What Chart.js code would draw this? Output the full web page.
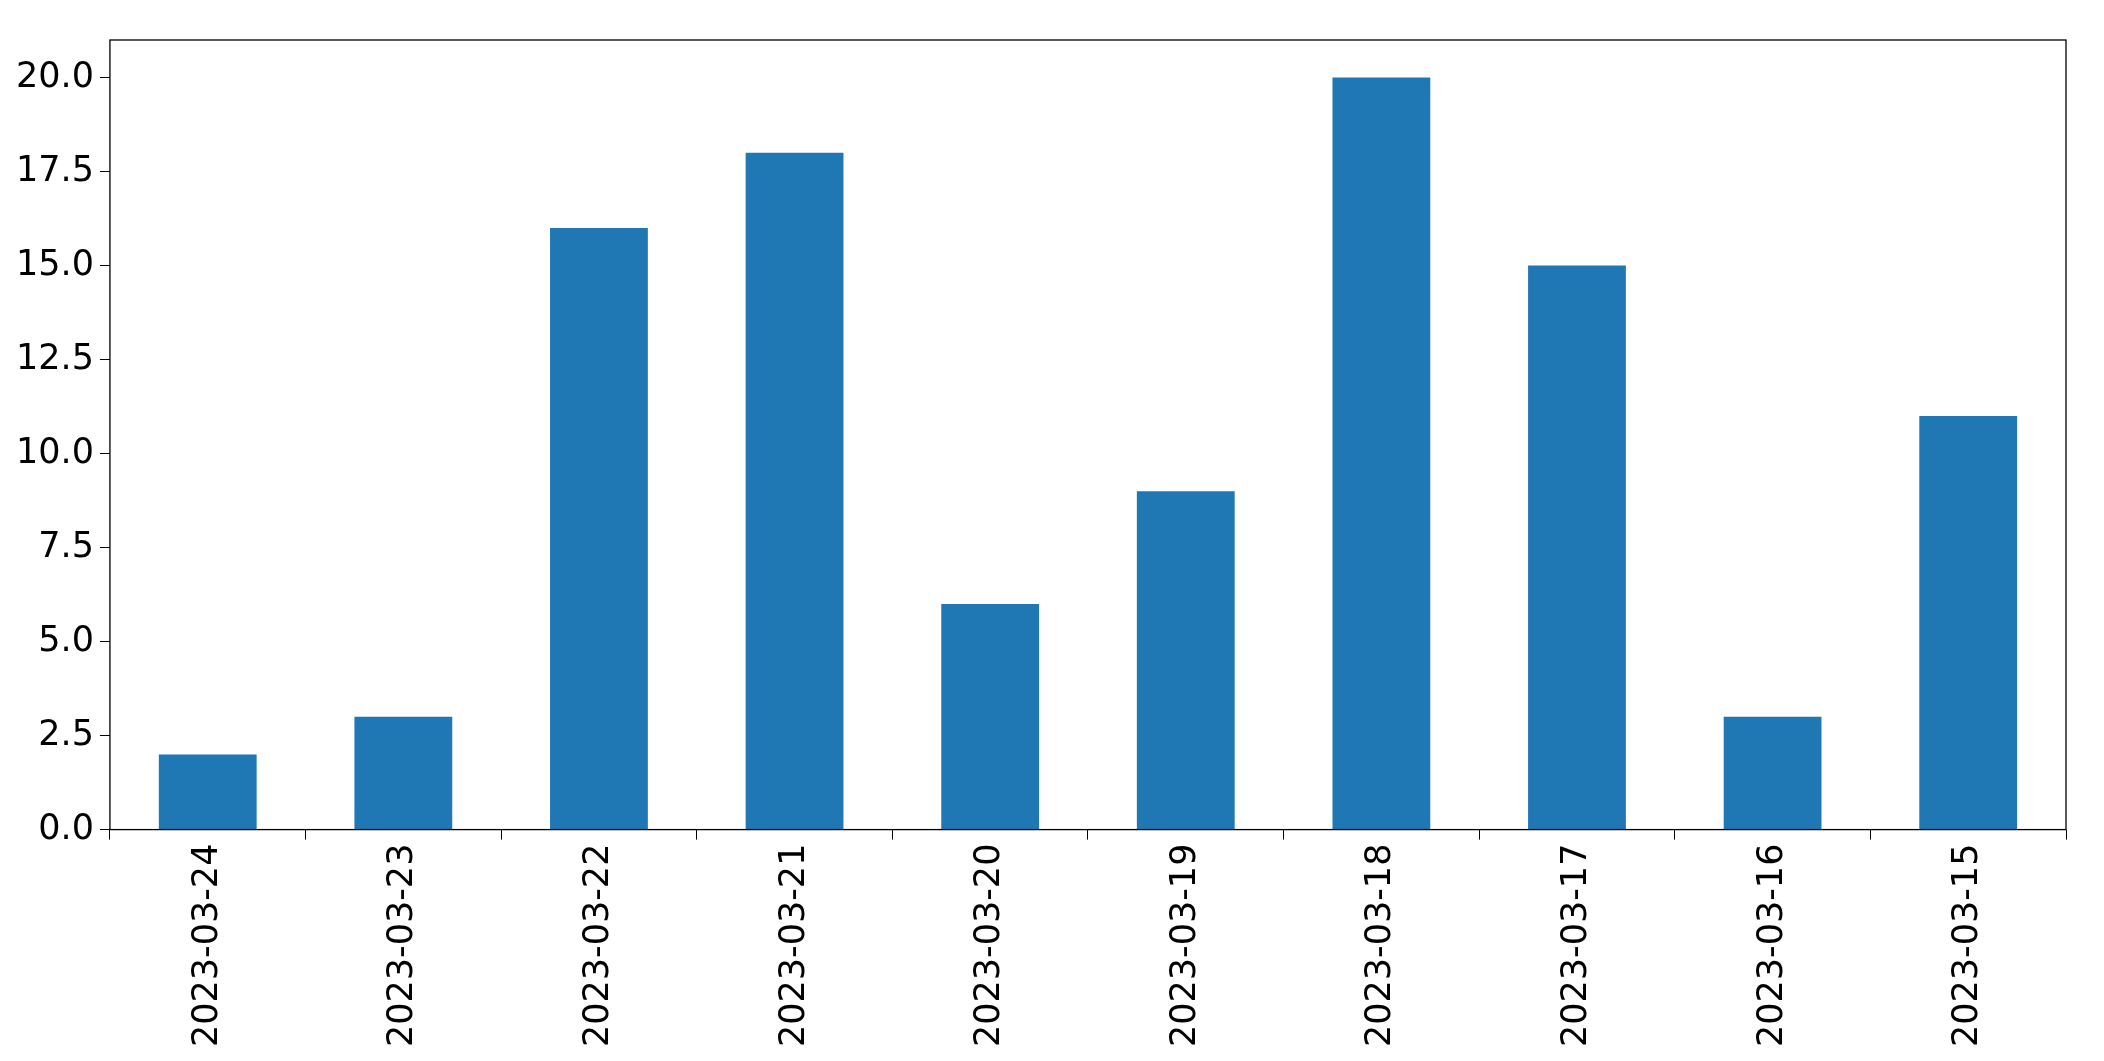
<!DOCTYPE html>
<html><head><meta charset="utf-8">
<script src="https://cdn.jsdelivr.net/npm/chart.js@4/dist/chart.umd.min.js"></script>
<style>html,body{margin:0;padding:0;background:#fff}#w{width:2104px;height:1061px}</style>
</head><body><div id="w"><canvas id="c"></canvas></div>
<script>
const categories = ["2023-03-24","2023-03-23","2023-03-22","2023-03-21","2023-03-20","2023-03-19","2023-03-18","2023-03-17","2023-03-16","2023-03-15"];
const values = [2,3,16,18,6,9,20,15,3,11];
const yTicks = [0,2.5,5,7.5,10,12.5,15,17.5,20];

const frame = {id:'frame', afterDraw(ch){const a=ch.chartArea,x=ch.ctx;x.save();x.strokeStyle='#000';x.lineWidth=1.3;x.strokeRect(a.left,a.top,a.right-a.left,a.bottom-a.top);x.restore();}};
new Chart(document.getElementById('c'),{
  type:'bar',
  data:{labels:categories,datasets:[{data:values,backgroundColor:'#1f77b4',categoryPercentage:1,barPercentage:0.5}]},
  options:{responsive:true,maintainAspectRatio:false,animation:false,
    layout:{padding:{left:10,right:38,top:40,bottom:10}},
    plugins:{legend:{display:false},tooltip:{enabled:false}},
    scales:{
      x:{grid:{display:true,drawOnChartArea:false,tickLength:10,color:'#000'},border:{display:false},
         ticks:{color:'#000',font:{family:'DejaVu Sans',size:35},maxRotation:90,minRotation:90,padding:4}},
      y:{min:0,max:21,grid:{display:true,drawOnChartArea:false,tickLength:10,color:'#000'},border:{display:false},
         afterBuildTicks(s){s.ticks=yTicks.map(v=>({value:v}));},
         ticks:{color:'#000',font:{family:'DejaVu Sans',size:35},padding:6,callback:v=>Number(v).toFixed(1)}}
    }},
  plugins:[frame]
});
</script></body></html>
